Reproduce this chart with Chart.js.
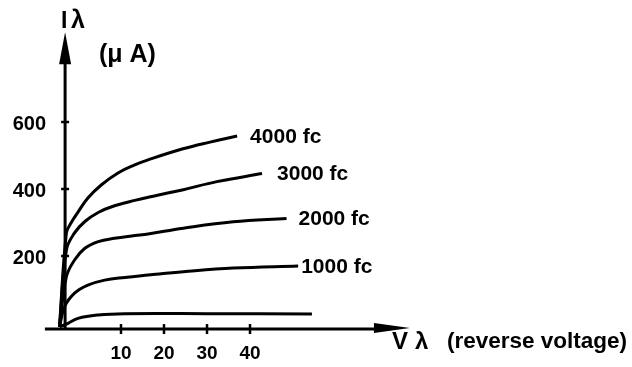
<!DOCTYPE html>
<html>
<head>
<meta charset="utf-8">
<script src="https://cdn.jsdelivr.net/npm/chart.js@4.4.1/dist/chart.umd.min.js"></script>
<style>
  html, body { margin: 0; padding: 0; background: #fff; }
  #wrap { width: 632px; height: 367px; }
</style>
</head>
<body>
<div id="wrap"><canvas id="diodeChart" width="632" height="367"></canvas></div>
<script>
// Photodiode reverse current vs reverse voltage
const yTicks = [200, 400, 600];
const xTicks = [10, 20, 30, 40];
const curveLabels = ["4000 fc", "3000 fc", "2000 fc", "1000 fc", ""];

const curve4000 = [[-4.3, -11], [-2.7, 269], [-1.6, 299], [0, 331], [2.3, 373], [5.4, 412], [9.3, 448], [13.2, 472], [16.3, 487], [24.4, 520], [30.7, 540], [37, 558]];
const curve3000 = [[-4.3, -11], [-2.7, 218], [-0.8, 269], [1.6, 303], [4.7, 330], [8.5, 350], [13.2, 366], [18, 380], [24.5, 398], [32.3, 422], [42.8, 446]];
const curve2000 = [[-4.3, -11], [-2.7, 138], [-0.8, 188], [1.6, 223], [4.7, 243], [8.5, 253], [13.2, 261], [16.3, 266], [24.5, 283], [36.1, 302], [48.5, 312]];
const curve1000 = [[-4.3, -11], [-3.1, 49], [-0.8, 89], [2.3, 113], [6.2, 128], [10.9, 136], [16.3, 143], [24.5, 153], [36.1, 164], [51.2, 170]];
const curveDark = [[-4.3, -11], [-2.3, -1], [0, 14], [4.7, 24], [10.9, 28], [30, 28], [54.4, 27]];

const allCurves = [curve4000, curve3000, curve2000, curve1000, curveDark];

const FONT = "Liberation Sans, Arial, sans-serif";
const labelGap = [13, 15, 12, 3];

// draws the arrowed axes, ticks and all the text
const axesPlugin = {
  id: "axesPlugin",
  afterDatasetsDraw(chart) {
    const ctx = chart.ctx;
    const xs = chart.scales.x;
    const ys = chart.scales.y;
    const ax = xs.getPixelForValue(-3);   // y axis position
    const ay = ys.getPixelForValue(-18);  // x axis position

    ctx.save();
    ctx.strokeStyle = "#000";
    ctx.fillStyle = "#000";
    ctx.lineWidth = 3;
    ctx.lineCap = "butt";

    // y axis
    const yTop = ys.getPixelForValue(868);
    ctx.beginPath();
    ctx.moveTo(ax, ay + 1);
    ctx.lineTo(ax, yTop + 20);
    ctx.stroke();
    ctx.beginPath();
    ctx.moveTo(ax, yTop);
    ctx.lineTo(ax - 6, yTop + 32);
    ctx.lineTo(ax + 6, yTop + 32);
    ctx.closePath();
    ctx.fill();

    // x axis
    const xLeft = xs.getPixelForValue(-7.7);
    const xTip = xs.getPixelForValue(77.2);
    ctx.beginPath();
    ctx.moveTo(xLeft, ay);
    ctx.lineTo(xTip - 20, ay);
    ctx.stroke();
    ctx.beginPath();
    ctx.moveTo(xTip, ay - 1);
    ctx.lineTo(xTip - 36, ay - 6);
    ctx.lineTo(xTip - 36, ay + 4);
    ctx.closePath();
    ctx.fill();

    // tick marks
    ctx.lineWidth = 2.5;
    yTicks.forEach((v) => {
      const py = ys.getPixelForValue(v);
      ctx.beginPath();
      ctx.moveTo(ax - 4, py);
      ctx.lineTo(ax + 4, py);
      ctx.stroke();
    });
    xTicks.forEach((v) => {
      const px = xs.getPixelForValue(v);
      ctx.beginPath();
      ctx.moveTo(px, ay - 5);
      ctx.lineTo(px, ay + 5);
      ctx.stroke();
    });

    // tick labels
    ctx.font = "bold 20px " + FONT;
    ctx.textAlign = "right";
    ctx.textBaseline = "middle";
    yTicks.forEach((v) => {
      ctx.fillText(String(v), 46, ys.getPixelForValue(v) + 2);
    });
    ctx.font = "bold 19px " + FONT;
    ctx.textAlign = "center";
    xTicks.forEach((v) => {
      ctx.fillText(String(v), xs.getPixelForValue(v), 354);
    });

    // curve labels at the end of each curve
    ctx.font = "bold 21px " + FONT;
    ctx.textAlign = "left";
    allCurves.forEach((c, i) => {
      if (!curveLabels[i]) return;
      const last = c[c.length - 1];
      ctx.fillText(curveLabels[i], xs.getPixelForValue(last[0]) + labelGap[i], ys.getPixelForValue(last[1]) + 1);
    });

    // axis titles
    ctx.textBaseline = "alphabetic";
    ctx.font = "bold 23px " + FONT;
    ctx.fillText("I", 61, 28);
    ctx.font = "bold 25px " + FONT;
    ctx.fillText("λ", 71, 28);
    ctx.fillText("(μ A)", 99, 62);
    ctx.font = "bold 24px " + FONT;
    ctx.fillText("V", 392, 349);
    ctx.fillText("λ", 415, 349);
    ctx.font = "bold 22.5px " + FONT;
    ctx.fillText("(reverse voltage)", 447, 348);
    ctx.restore();
  },
};

const ctx = document.getElementById("diodeChart");
new Chart(ctx, {
  type: "line",
  data: {
    datasets: allCurves.map((c, i) => ({
      label: curveLabels[i] || "dark",
      data: c.map((p) => ({ x: p[0], y: p[1] })),
      borderColor: "#000",
      borderWidth: 3,
      pointRadius: 0,
      fill: false,
      tension: 0.4,
    })),
  },
  options: {
    responsive: false,
    animation: false,
    layout: { padding: 0 },
    plugins: { legend: { display: false }, tooltip: { enabled: false } },
    scales: {
      x: { type: "linear", display: false, min: -18.14, max: 128.84 },
      y: { type: "linear", display: false, min: -131.3, max: 964.2 },
    },
  },
  plugins: [axesPlugin],
});
</script>
</body>
</html>
